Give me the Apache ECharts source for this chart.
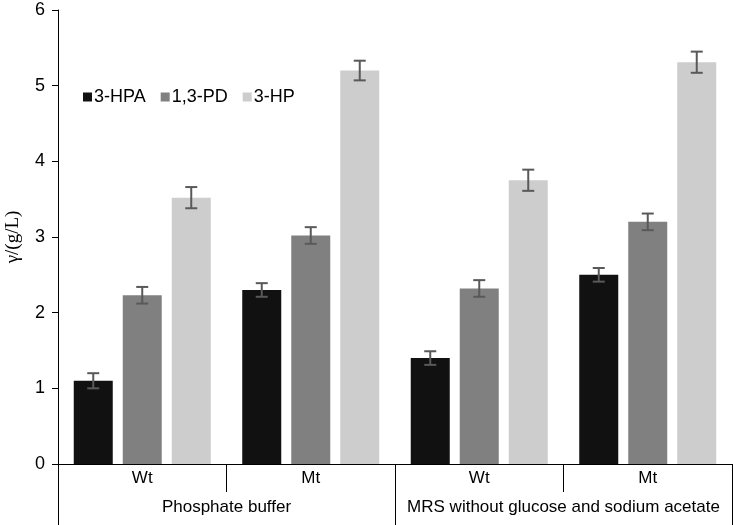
<!DOCTYPE html>
<html>
<head>
<meta charset="utf-8">
<script src="https://cdn.jsdelivr.net/npm/echarts@6/dist/echarts.min.js"></script>
<style>html,body{margin:0;padding:0;background:#fff}#c{width:733px;height:525px}</style>
</head>
<body>
<div id="c"></div>
<script>
var subCategories = ['Wt', 'Mt', 'Wt', 'Mt'];
var groupCategories = ['Phosphate buffer', 'MRS without glucose and sodium acetate'];
var seriesNames = ['3-HPA', '1,3-PD', '3-HP'];
var hpa = [1.10, 2.30, 1.40, 2.50];
var pd = [2.23, 3.02, 2.32, 3.20];
var hp = [3.52, 5.20, 3.75, 5.31];
var hpaErr = [0.10, 0.09, 0.09, 0.09];
var pdErr = [0.11, 0.11, 0.11, 0.11];
var hpErr = [0.14, 0.13, 0.14, 0.14];
var yTicks = [0, 1, 2, 3, 4, 5, 6];

var colors = ['#111111', '#808080', '#cdcdcd'];
var values = [hpa, pd, hp];
var errs = [hpaErr, pdErr, hpErr];
var BAR_W = 39, BAR_STEP = 49;
var font = "'Liberation Sans', Arial, sans-serif";

var errData = [];
for (var s = 0; s < 3; s++) {
  for (var i = 0; i < subCategories.length; i++) {
    errData.push([i, values[s][i], errs[s][i], s]);
  }
}

var series = [];
for (var s2 = 0; s2 < 3; s2++) {
  series.push({
    name: seriesNames[s2], type: 'bar', xAxisIndex: 0, yAxisIndex: 0,
    data: values[s2], barWidth: BAR_W, barGap: (10 / 39 * 100) + '%',
    itemStyle: { color: colors[s2] }, silent: true
  });
}
series.push({
  type: 'custom', xAxisIndex: 0, yAxisIndex: 0, silent: true, z: 10,
  data: errData,
  encode: { x: 0, y: 1 },
  renderItem: function (params, api) {
    var ci = api.value(0), v = api.value(1), e = api.value(2), si = api.value(3);
    var top = api.coord([ci, v + e]);
    var bot = api.coord([ci, v - e]);
    var x = top[0] + (si - 1) * BAR_STEP;
    var hw = 6;
    var st = { stroke: '#595959', lineWidth: 2 };
    return { type: 'group', children: [
      { type: 'line', shape: { x1: x, y1: top[1], x2: x, y2: bot[1] }, style: st },
      { type: 'line', shape: { x1: x - hw, y1: top[1], x2: x + hw, y2: top[1] }, style: st },
      { type: 'line', shape: { x1: x - hw, y1: bot[1], x2: x + hw, y2: bot[1] }, style: st }
    ]};
  }
});

var chart = echarts.init(document.getElementById('c'));
chart.setOption({
  animation: false,
  backgroundColor: '#fff',
  grid: { left: 58, right: 1, top: 10, bottom: 61, containLabel: false, outerBoundsMode: 'none' },
  legend: {
    data: seriesNames, left: 78, top: 83, itemWidth: 9, itemHeight: 9, itemGap: 15,
    icon: 'rect',
    textStyle: { fontFamily: font, fontSize: 18, color: '#000', padding: [0, 0, 0, -3] }
  },
  xAxis: [
    {
      type: 'category', data: subCategories, position: 'bottom',
      axisLine: { show: true, lineStyle: { color: '#000', width: 1 } },
      axisTick: { show: true, length: 28, lineStyle: { color: '#000' } },
      axisLabel: { fontFamily: font, fontSize: 17, color: '#000', margin: 6, interval: 0 }
    },
    {
      type: 'category', data: groupCategories, position: 'bottom',
      axisLine: { show: false },
      axisTick: { show: true, length: 61, lineStyle: { color: '#000' } },
      axisLabel: { fontFamily: font, fontSize: 17, color: '#000', margin: 35, interval: 0 }
    }
  ],
  yAxis: {
    type: 'value', min: yTicks[0], max: yTicks[yTicks.length - 1], interval: 1,
    name: 'γ/(g/L)', nameLocation: 'middle', nameGap: 35, nameRotate: 90,
    nameTextStyle: { fontFamily: "'Liberation Serif', serif", fontSize: 19, color: '#000' },
    axisLine: { show: true, lineStyle: { color: '#000' } },
    axisTick: { show: true, length: 6, lineStyle: { color: '#000' } },
    splitLine: { show: false },
    axisLabel: { fontFamily: font, fontSize: 18, color: '#000', margin: 13 }
  },
  series: series
});
</script>
</body>
</html>
